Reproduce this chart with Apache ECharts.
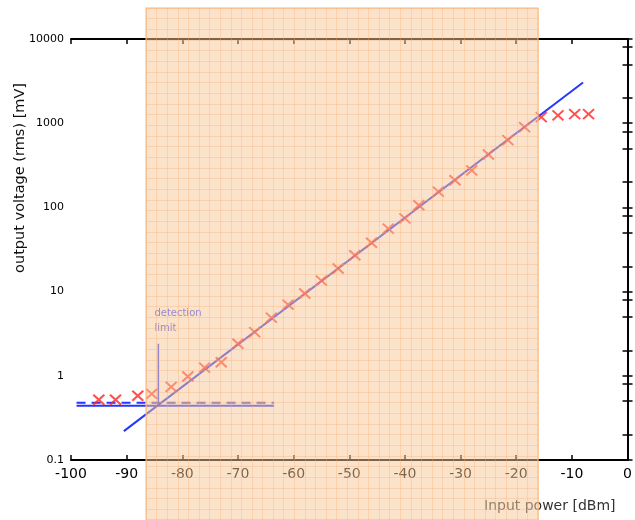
<!DOCTYPE html>
<html>
<head>
<meta charset="utf-8">
<script src="https://cdn.jsdelivr.net/npm/echarts@6/dist/echarts.min.js"></script>
<style>
  html, body { margin: 0; padding: 0; background: #fff; }
  #chart { width: 635px; height: 520px; }
</style>
</head>
<body>
<div id="chart"></div>
<script>
// measured points: input power [dBm] -> output voltage (rms) [mV]
const inputPower = [-95, -92, -88, -85.5, -82, -79, -76, -73, -70, -67, -64, -61, -58, -55, -52,
                    -49, -46, -43, -40, -37.5, -34, -31, -28, -25, -21.5, -18.5, -15.5, -12.5, -9.5, -7];
const outputVoltage = [0.52, 0.52, 0.58, 0.61, 0.74, 0.98, 1.25, 1.45, 2.4, 3.3, 4.9, 7.0, 9.5, 13.5, 18.8,
                       27, 38, 56, 74, 106, 154, 210, 275, 425, 630, 900, 1180, 1240, 1280, 1280];
// fitted response line and noise floor lines
const fitLine = [[-90.5, 0.22], [-8, 3050]];
const noiseSolid = [[-99, 0.44], [-63.5, 0.44]];
const noiseDashed = [[-99, 0.48], [-63.5, 0.48]];
const detectionLimit = [[-84.3, 0.49], [-84.3, 2.4]];
// shaded input range [dBm]
const shadeRange = [-86.5, -16];
// tick values
const yLabelValues = [0.1, 1, 10, 100, 1000, 10000];
const yTickValues = [0.1, 0.2, 0.5, 0.8, 1, 2, 5, 8, 10, 20, 50, 80, 100, 200, 500, 800,
                     1000, 2000, 5000, 8000, 10000];

const font = '"DejaVu Sans", sans-serif';
const red = '#ff2424';
const blue = '#2436ff';

const chart = echarts.init(document.getElementById('chart'));

const baseX = {
  type: 'value', gridIndex: 0, min: -100, max: 0, interval: 10,
  axisLine: { lineStyle: { color: '#000', width: 2 } },
  axisTick: { inside: true, length: 5, lineStyle: { color: '#000', width: 1.5 } },
  splitLine: { show: false }
};
const baseY = {
  type: 'log', logBase: 10, gridIndex: 0, min: 0.1, max: 10000,
  axisLine: { show: true, lineStyle: { color: '#000', width: 2 } },
  axisTick: { inside: true, length: 5, customValues: yTickValues, lineStyle: { color: '#000', width: 1.5 } },
  splitLine: { show: false },
  minorTick: { show: false }
};

const option = {
  animation: false,
  grid: [
    { left: 71, right: 3, top: 39, bottom: 60, show: false },
    { left: 147, right: 93, top: 8, bottom: 0, show: true, z: 3,
      backgroundColor: 'rgba(246,198,152,0.5)', borderColor: 'rgba(248,185,130,0.7)', borderWidth: 1.5 }
  ],
  xAxis: [
    Object.assign({}, baseX, {
      position: 'bottom',
      axisLabel: { color: '#000', fontSize: 14, fontFamily: font, margin: 7 }
    }),
    Object.assign({}, baseX, { position: 'top', axisLabel: { show: false } }),
    { type: 'value', gridIndex: 1, min: 0, max: 37, interval: 1, z: 4,
      axisLine: { show: false }, axisTick: { show: false }, axisLabel: { show: false },
      splitLine: { show: true, lineStyle: { color: 'rgba(250,170,100,0.3)', width: 1 } } }
  ],
  yAxis: [
    Object.assign({}, baseY, {
      position: 'left',
      axisLabel: {
        color: '#000', fontSize: 11, fontFamily: font, margin: 7,
        customValues: yLabelValues,
        formatter: v => String(+Number(v).toPrecision(6))
      }
    }),
    Object.assign({}, baseY, { position: 'right', axisLabel: { show: false } }),
    { type: 'value', gridIndex: 1, min: 0, max: 48, interval: 1, z: 4,
      axisLine: { show: false }, axisTick: { show: false }, axisLabel: { show: false },
      splitLine: { show: true, lineStyle: { color: 'rgba(250,170,100,0.3)', width: 1 } } }
  ],
  graphic: {
    elements: [
      { type: 'text', left: 13, top: 83, rotation: Math.PI / 2, z: 1,
        style: { text: 'output voltage (rms) [mV]', font: '14.5px ' + font, fill: '#111' } },
      { type: 'text', left: 484, top: 499, z: 1,
        style: { text: 'Input power [dBm]', font: '14px ' + font, fill: '#333' } }
    ]
  },
  series: [
    {
      name: 'noise', type: 'line', xAxisIndex: 0, yAxisIndex: 0, data: noiseSolid,
      showSymbol: false, lineStyle: { color: blue, width: 2 }, z: 2
    },
    {
      name: 'noise dashed', type: 'line', xAxisIndex: 0, yAxisIndex: 0, data: noiseDashed,
      showSymbol: false, lineStyle: { color: blue, width: 2, type: [9, 6] }, z: 2
    },
    {
      name: 'fit', type: 'line', xAxisIndex: 0, yAxisIndex: 0, data: fitLine,
      showSymbol: false, lineStyle: { color: blue, width: 2 }, z: 2
    },
    {
      name: 'detection limit', type: 'line', xAxisIndex: 0, yAxisIndex: 0,
      data: [
        detectionLimit[0],
        { value: detectionLimit[1],
          label: { show: true, formatter: 'detection\nlimit', position: 'top', align: 'left',
                   offset: [-4, -3], color: '#3a4cff', fontSize: 10, fontFamily: font, lineHeight: 15 } }
      ],
      symbol: 'circle', symbolSize: 0, showSymbol: true,
      lineStyle: { color: '#3446ff', width: 1.5 }, z: 2
    },
    {
      name: 'measured', type: 'scatter', xAxisIndex: 0, yAxisIndex: 0,
      data: inputPower.map((x, i) => [x, outputVoltage[i]]),
      symbol: 'path://M0,0L10,10M10,0L0,10', symbolSize: [11, 10],
      itemStyle: { color: 'transparent', borderColor: red, borderWidth: 2 }, z: 2
    }
  ]
};

chart.setOption(option);

// place the shaded overlay from the shaded input range through the x scale
const x0 = chart.convertToPixel({ xAxisIndex: 0 }, shadeRange[0]);
const x1 = chart.convertToPixel({ xAxisIndex: 0 }, shadeRange[1]);
chart.setOption({ grid: [{}, { left: Math.round(x0), right: Math.round(635 - x1) }] });
</script>
</body>
</html>
